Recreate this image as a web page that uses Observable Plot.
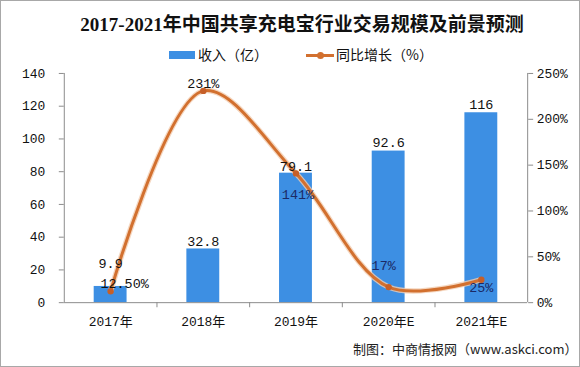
<!DOCTYPE html>
<html>
<head>
<meta charset="utf-8">
<script src="https://cdn.jsdelivr.net/npm/d3@7"></script>
<script src="https://cdn.jsdelivr.net/npm/@observablehq/plot@0.6"></script>
<style>
  html, body { margin: 0; padding: 0; background: #fff; }
  #wrap { position: relative; width: 580px; height: 367px; box-sizing: border-box; border: 1px solid #a8a8a8; background: #fff; overflow: hidden; }
  #title { position: absolute; left: 0; top: 8px; width: 580px; padding-left: 22px; box-sizing: border-box; text-align: center; font-family: "Liberation Serif", "Noto Sans CJK SC", serif; font-weight: bold; font-size: 19px; color: #111; white-space: nowrap; }
  .leg { position: absolute; top: 43px; font-family: "Noto Sans CJK SC", sans-serif; font-size: 14px; line-height: 20px; color: #111; white-space: nowrap; }
  #chart { position: absolute; left: 0; top: 62px; }
  #caption { position: absolute; left: 352px; top: 338px; font-family: "Noto Sans CJK SC", sans-serif; font-size: 13px; color: #222; white-space: nowrap; }
</style>
</head>
<body>
<div id="wrap">
  <div id="title">2017-2021年中国共享充电宝行业交易规模及前景预测</div>
  <div id="legend"></div>
  <div id="chart"></div>
  <div id="caption">制图：中商情报网（www.askci.com）</div>
</div>
<script>
// ---- data ----
const years = ["2017年", "2018年", "2019年", "2020年E", "2021年E"];
const revenue = [9.9, 32.8, 79.1, 92.6, 116];
const growth = [12.5, 231, 141, 17, 25];
const growthLabels = ["12.50%", "231%", "141%", "17%", "25%"];
const revenueTicks = [0, 20, 40, 60, 80, 100, 120, 140];
const growthTicks = [0, 50, 100, 150, 200, 250];
const seriesNames = ["收入（亿）", "同比增长（%）"];

const data = years.map((year, i) => ({ year, revenue: revenue[i], growth: growth[i], glabel: growthLabels[i], i }));

// ---- style ----
const barColor = "#3d8fe3";
const lineColor = "#d2702f";
const axisColor = "#8c8c8c";
const monoFont = "'Liberation Mono', 'DejaVu Sans Mono', monospace";
const k = 140 / 250; // growth (%) mapped onto revenue axis
const W = 580, H = 278, mL = 63, mR = 52, mT = 10, mB = 38;
const step = (W - mL - mR) / years.length;
const pctNudge = [[14, -8], [0, -7], [2, 21], [-5, -21], [0, 8]];
const revNudge = [-23, -7, -7, -8, -8];

// legend
const legend = document.getElementById("legend");
legend.innerHTML = `
  <div class="leg" style="left:168px"><span style="display:inline-block;width:26px;height:8px;background:${barColor};vertical-align:middle;margin-right:3px;position:relative;top:-1px"></span>${seriesNames[0]}</div>
  <div class="leg" style="left:305px"><span style="display:inline-block;width:28px;height:3px;background:${lineColor};vertical-align:middle;margin-right:2px;position:relative;top:-1px"><span style="position:absolute;left:11px;top:-2px;width:7px;height:7px;border-radius:50%;background:${lineColor}"></span></span>${seriesNames[1]}</div>`;

const chart = Plot.plot({
  width: W, height: H,
  marginLeft: mL, marginRight: mR, marginTop: mT, marginBottom: mB,
  style: { fontFamily: monoFont, fontSize: "13px", color: "#111", background: "transparent", overflow: "visible" },
  x: { domain: years, paddingInner: 0.64, paddingOuter: 0.32, label: null },
  y: { domain: [0, 140], label: null },
  marks: [
    Plot.barY(data, { x: "year", y: "revenue", fill: barColor }),
    // axes lines
    Plot.ruleY([0], { stroke: axisColor }),
    Plot.ruleX([years[0]], { dx: -step / 2, stroke: axisColor }),
    Plot.ruleX([years[years.length - 1]], { dx: step / 2, stroke: axisColor }),
    Plot.ruleX(years.slice(1), { y1: 0, y2: -3.1, dx: -step / 2, stroke: axisColor }),
    Plot.axisY({ anchor: "left", ticks: revenueTicks, tickSize: 5, tickPadding: 14, stroke: axisColor, fill: "#111", fontSize: 13, fontFamily: monoFont }),
    Plot.axisY({ anchor: "right", ticks: growthTicks.map(p => p * k), tickFormat: d => Math.round(d / k) + "%", tickSize: 5, tickPadding: 4, stroke: axisColor, fill: "#111", fontSize: 13, fontFamily: monoFont }),
    Plot.axisX({ tickSize: 0, tickPadding: 14, fill: "#111", fontSize: 13, fontFamily: monoFont + ", 'Noto Sans CJK SC'" }),
    // growth line
    Plot.line(data, { x: "year", y: d => d.growth * k, curve: "catmull-rom", stroke: "#f2cdb0", strokeWidth: 5.5, strokeOpacity: 0.8 }),
    Plot.line(data, { x: "year", y: d => d.growth * k, curve: "catmull-rom", stroke: lineColor, strokeWidth: 3 }),
    Plot.dot(data, { x: "year", y: d => d.growth * k, r: 3.2, fill: "#c65f28" }),
    // revenue labels
    ...data.map((d, i) => Plot.text([d], { x: "year", y: "revenue", text: r => String(r.revenue), dy: revNudge[i], fill: "#111", fontSize: 13.5, fontFamily: monoFont })),
    // growth labels
    ...data.map((d, i) => Plot.text([d], { x: "year", y: r => r.growth * k, text: "glabel", dx: pctNudge[i][0], dy: pctNudge[i][1], fill: i === 1 || i === 0 ? "#111" : "#1b2a66", fontSize: 13.5, fontFamily: monoFont }))
  ]
});
document.getElementById("chart").appendChild(chart);
</script>
</body>
</html>
